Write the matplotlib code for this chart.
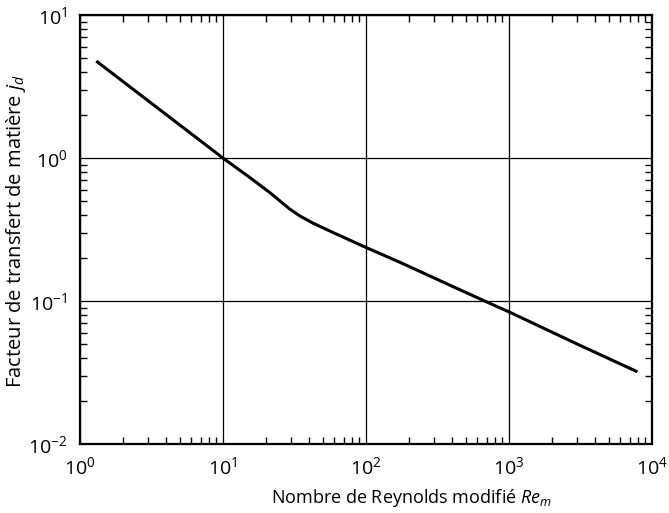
import matplotlib
matplotlib.use("Agg")
import matplotlib.pyplot as plt
from matplotlib.ticker import LogLocator, NullFormatter

plt.rcParams['font.family'] = ['Open Sans', 'DejaVu Sans']
plt.rcParams['mathtext.fontset'] = 'custom'
plt.rcParams['mathtext.rm'] = 'Open Sans'
plt.rcParams['mathtext.it'] = 'Open Sans:italic'

re_m = [1.3, 10.0, 15.4, 21.2, 29.3, 34.3, 42.5, 58.6, 100.0, 174.0, 400.0, 740.0, 1000.0, 3000.0, 7900.0]
j_d = [4.77, 1.0, 0.731, 0.575, 0.44, 0.395, 0.351, 0.302, 0.237, 0.186, 0.127, 0.096, 0.084, 0.050, 0.032]

fig = plt.figure(figsize=(6.69, 5.13), dpi=100)
ax = fig.add_axes([0.1196, 0.1345, 0.855, 0.836])
ax.plot(re_m, j_d, color='black', lw=2.2, solid_capstyle='butt')
ax.set_xscale('log')
ax.set_yscale('log')
ax.set_xlim(1, 1e4)
ax.set_ylim(1e-2, 1e1)
ax.grid(True, which='major', color='black', lw=0.9)
ax.xaxis.set_minor_locator(LogLocator(base=10, subs=range(2, 10)))
ax.yaxis.set_minor_locator(LogLocator(base=10, subs=range(2, 10)))
ax.xaxis.set_minor_formatter(NullFormatter())
ax.yaxis.set_minor_formatter(NullFormatter())
ax.tick_params(which='both', direction='in', top=True, right=True, color='black')
ax.tick_params(which='major', length=0, labelsize=14, pad=9)
ax.tick_params(which='minor', length=5, width=1)
for s in ax.spines.values():
    s.set_linewidth(1.6)
ax.set_xlabel('Nombre de Reynolds modifié $Re_m$', fontsize=13)
ax.set_ylabel('Facteur de transfert de matière $j_d$', fontsize=14.5)
ax.xaxis.set_label_coords(0.58, -0.1)
ax.yaxis.set_label_coords(-0.091, 0.496)
fig.savefig('out.png', dpi=100)
